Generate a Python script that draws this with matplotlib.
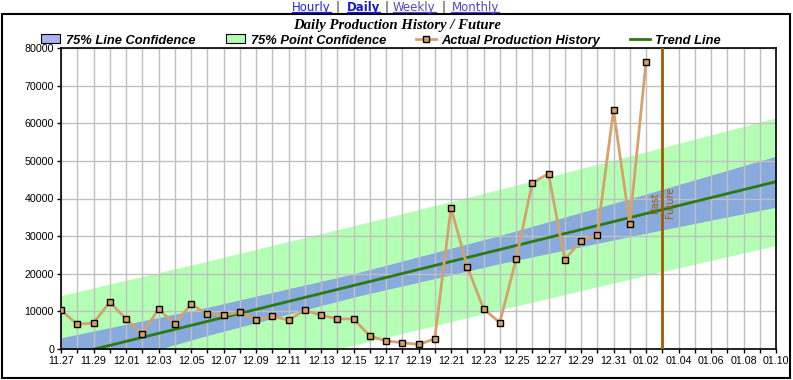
import numpy as np
import matplotlib
matplotlib.use("Agg")
import matplotlib.pyplot as plt
from matplotlib.patches import Rectangle
from matplotlib.lines import Line2D

# daily production, one value per day starting 11.27
production = [10300, 6600, 6900, 12500, 8000, 4000, 10600, 6700, 11900, 9300,
              9000, 9800, 7700, 8700, 7700, 10300, 9000, 8000, 8000, 3500,
              2100, 1700, 1200, 2700, 37500, 21900, 10700, 7000, 23800, 44100,
              46600, 23700, 28800, 30400, 63500, 33300, 76400]

# trend line end points (day, value)
trend_days = [0, 44]
trend_vals = [-2220, 44470]

# confidence band edges read at these days
band_days = [0, 9, 18, 27, 36, 44]
line_upper = [2980, 11070, 19980, 30170, 41180, 51250]
line_lower = [-7420, 3590, 13780, 22690, 30780, 37690]
point_upper = [14200, 23340, 32760, 42440, 52400, 61430]
point_lower = [-18640, -8680, 1000, 10420, 19560, 27510]

split_day = 37  # past / future boundary (01.03)

date_labels = ['11.27', '11.29', '12.01', '12.03', '12.05', '12.07', '12.09', '12.11',
               '12.13', '12.15', '12.17', '12.19', '12.21', '12.23', '12.25', '12.27',
               '12.29', '12.31', '01.02', '01.04', '01.06', '01.08', '01.10']
y_ticks = [0, 10000, 20000, 30000, 40000, 50000, 60000, 70000, 80000]

W, H = 793, 380
fig = plt.figure(figsize=(W / 100, H / 100), dpi=100)


def fx(x):
    return x / W


def fy(y):
    return 1 - y / H


ax = fig.add_axes([fx(61), fy(349), 715 / W, 301 / H])

ax.fill_between(band_days, point_lower, point_upper, color='#b3ffb3', lw=0, zorder=0.2)
ax.fill_between(band_days, line_lower, line_upper, color='#88aadc', lw=0, zorder=0.3)

ax.plot(trend_days, trend_vals, color='#2a7a12', lw=2, zorder=2)
days = np.arange(len(production))
ax.plot(days, production, color='#d4a26e', lw=2, zorder=3,
        marker='s', ms=5, mfc='#d9a064', mec='black', mew=1)

ax.axvline(split_day, color='#a65a00', lw=2, zorder=4)
ax.annotate('Past', xy=(split_day, 39000), xytext=(-5.5, 0), textcoords='offset points',
            rotation=90, ha='center', va='center', color='#a65a00', fontsize=7)
ax.annotate('Future', xy=(split_day, 39000), xytext=(5.3, 0), textcoords='offset points',
            rotation=90, ha='center', va='center', color='#a65a00', fontsize=7)

ax.set_xlim(0, 44)
ax.set_ylim(0, 80000)
ax.set_xticks(np.arange(0, 45, 2))
ax.set_xticklabels(date_labels)
ax.set_xticks(np.arange(0, 45, 1), minor=True)
ax.set_yticks(y_ticks)
ax.set_yticklabels([str(v) for v in y_ticks])
ax.set_axisbelow(True)
ax.grid(True, which='both', color='#c0c0c0', lw=1)
ax.tick_params(which='both', length=3, width=1, pad=2, labelsize=7.7, direction='out')
for lab in ax.get_xticklabels() + ax.get_yticklabels():
    lab.set_fontfamily('Liberation Sans')
for s in ax.spines.values():
    s.set_linewidth(1.2)

# outer frame
fig.add_artist(Rectangle((fx(2), fy(378)), 788 / W, 364 / H, fill=False,
                         ec='black', lw=1.5, transform=fig.transFigure))

# title
fig.text(fx(397), fy(28.7), 'Daily Production History / Future', ha='center', va='baseline',
         family='Liberation Serif', style='italic', weight='bold', fontsize=10.6)

# legend, drawn by hand
lkw = dict(va='baseline', family='Liberation Sans', style='italic', weight='bold', fontsize=9.3)
fig.add_artist(Rectangle((fx(41), fy(43)), 19 / W, 8.5 / H, fc='#a9b4ee', ec='black', lw=0.8,
                         transform=fig.transFigure))
fig.text(fx(66), fy(44), '75% Line Confidence', **lkw)
fig.add_artist(Rectangle((fx(226), fy(43)), 19 / W, 8.5 / H, fc='#b3ffb3', ec='black', lw=0.8,
                         transform=fig.transFigure))
fig.text(fx(251), fy(44), '75% Point Confidence', **lkw)
fig.add_artist(Line2D([fx(416), fx(426), fx(436)], [fy(39)] * 3, color='#d4a26e', lw=2,
                      marker='s', markevery=[1], ms=5, mfc='#d9a064', mec='black', mew=1,
                      transform=fig.transFigure))
fig.text(fx(441), fy(44), 'Actual Production History', **lkw)
fig.add_artist(Line2D([fx(630), fx(650)], [fy(39), fy(39)], color='#2a7a12', lw=2,
                      transform=fig.transFigure))
fig.text(fx(655), fy(44), 'Trend Line', **lkw)

# navigation links at the top
links = [('Hourly', 292, '#2020e8', 'normal', True),
         ('|', 335.5, '#333333', 'normal', False),
         ('Daily', 347, '#1a1acc', 'bold', True),
         ('|', 384.5, '#333333', 'normal', False),
         ('Weekly', 393, '#5544cc', 'normal', True),
         ('|', 441.5, '#333333', 'normal', False),
         ('Monthly', 451.5, '#5544cc', 'normal', True)]
link_texts = []
for txt, x, col, wt, ul in links:
    t = fig.text(fx(x), fy(10.5), txt, color=col, weight=wt, fontsize=8.5,
                 family='DejaVu Sans', va='baseline', ha='left')
    link_texts.append((t, col, ul))

fig.canvas.draw()
for t, col, ul in link_texts:
    if ul:
        bb = t.get_window_extent()
        fig.add_artist(Line2D([bb.x0 / W, bb.x1 / W], [fy(12), fy(12)], color=col, lw=0.9,
                              transform=fig.transFigure))

fig.savefig('out.png', dpi=100)
